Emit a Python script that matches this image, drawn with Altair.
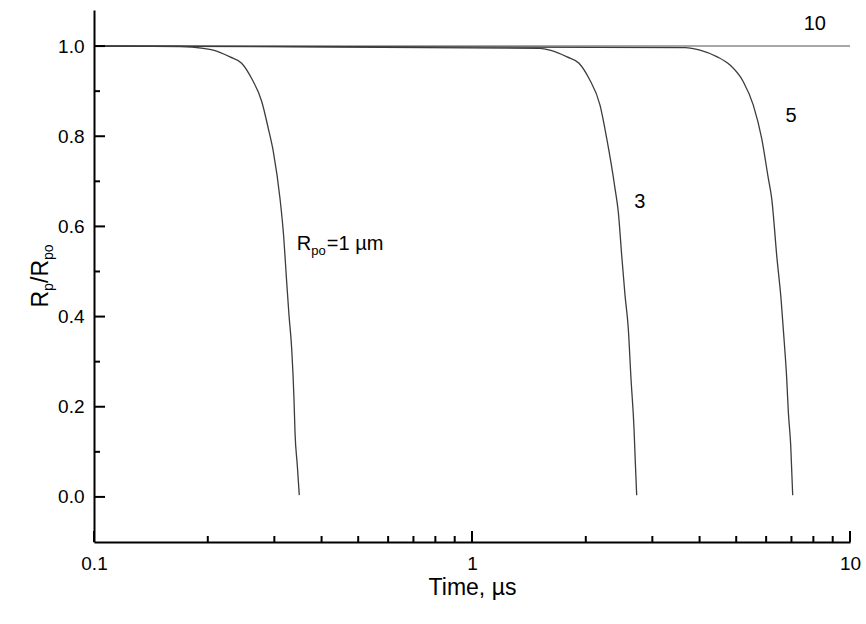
import altair as alt
import pandas as pd

# ---- data ----
t_1um = [0.1, 0.169, 0.1946, 0.2068, 0.2289, 0.2458, 0.2613, 0.2778, 0.2892, 0.2981,
         0.3105, 0.3168, 0.3234, 0.3280, 0.3334, 0.3381, 0.3402, 0.3450, 0.3492]
r_1um = [1.0, 0.999, 0.995, 0.991, 0.976, 0.962, 0.928, 0.877, 0.817, 0.766,
         0.662, 0.588, 0.477, 0.403, 0.329, 0.218, 0.144, 0.070, 0.004]

t_3um = [0.1, 1.513, 1.608, 1.784, 1.919, 2.040, 2.181, 2.272, 2.390, 2.438,
         2.489, 2.540, 2.591, 2.634, 2.683, 2.704, 2.727]
r_3um = [1.0, 0.995, 0.991, 0.976, 0.962, 0.928, 0.869, 0.795, 0.684, 0.632,
         0.536, 0.447, 0.3735, 0.2625, 0.1515, 0.0777, 0.0036]

t_5um = [0.1, 3.661, 4.011, 4.441, 4.814, 5.221, 5.548, 5.839, 6.079, 6.206,
         6.410, 6.569, 6.690, 6.800, 6.868, 6.968, 7.054]
r_5um = [1.0, 0.9965, 0.991, 0.9765, 0.958, 0.921, 0.869, 0.795, 0.707, 0.662,
         0.529, 0.440, 0.351, 0.263, 0.189, 0.115, 0.0036]

t_10um = [0.1, 10.0]
r_10um = [1.0, 1.0]

label_text = ["10", "5", "3"]
label_t = [8.07, 6.98, 2.78]
label_r = [1.05, 0.844, 0.655]

rpo_label_t = [0.344]
rpo_label_r = [0.562]

x_major = [0.1, 1, 10]
x_minor = [0.2, 0.3, 0.4, 0.5, 0.6, 0.7, 0.8, 0.9, 2, 3, 4, 5, 6, 7, 8, 9]
y_major = [0.0, 0.2, 0.4, 0.6, 0.8, 1.0]
y_minor = [0.1, 0.3, 0.5, 0.7, 0.9]

# ---- tables ----
curves = pd.concat([
    pd.DataFrame({"t": t_1um, "r": r_1um, "s": "1"}),
    pd.DataFrame({"t": t_3um, "r": r_3um, "s": "3"}),
    pd.DataFrame({"t": t_5um, "r": r_5um, "s": "5"}),
])
flat = pd.DataFrame({"t": t_10um, "r": r_10um})
labels = pd.DataFrame({"t": label_t, "r": label_r, "txt": label_text})
rpo = pd.DataFrame({"t": rpo_label_t, "r": rpo_label_r})

FONT = "Liberation Sans"
W, H = 756, 532

xscale = alt.Scale(type="log", domain=[0.1, 10], nice=False)
yscale = alt.Scale(domain=[-0.1, 1.08], nice=False, zero=False)

xaxis = alt.Axis(values=x_major, format="~g", ticks=False, grid=False,
                 title="Time, µs", labelPadding=12, titlePadding=3,
                 labelFontSize=19, titleFontSize=23, labelFont=FONT, titleFont=FONT,
                 titleFontWeight="normal", domainColor="black", domainWidth=2,
                 labelColor="black", titleColor="black", labelFlush=False)
yaxis = alt.Axis(values=y_major, format=".1f", ticks=False, grid=False,
                 title=None, labelPadding=10,
                 labelFontSize=19, labelFont=FONT,
                 domainColor="black", domainWidth=2, labelColor="black")

flat_line = alt.Chart(flat).mark_line(color="#8a8a8a", strokeWidth=1.6).encode(
    x=alt.X("t:Q", scale=xscale, axis=xaxis),
    y=alt.Y("r:Q", scale=yscale, axis=yaxis),
)

curve_lines = alt.Chart(curves).mark_line(color="#3c3c3c", strokeWidth=1.3,
                                          interpolate="monotone").encode(
    x=alt.X("t:Q", scale=xscale),
    y=alt.Y("r:Q", scale=yscale),
    detail="s:N",
)

num_labels = alt.Chart(labels).mark_text(font=FONT, fontSize=20, color="black",
                                         align="center", baseline="middle").encode(
    x=alt.X("t:Q", scale=xscale),
    y=alt.Y("r:Q", scale=yscale),
    text="txt:N",
)

rpo_R = alt.Chart(rpo).mark_text(font=FONT, fontSize=20, color="black",
                                 align="left", baseline="middle", text="R").encode(
    x=alt.X("t:Q", scale=xscale), y=alt.Y("r:Q", scale=yscale))
rpo_sub = alt.Chart(rpo).mark_text(font=FONT, fontSize=13, color="black",
                                   align="left", baseline="middle", text="po",
                                   dx=14.5, dy=7).encode(
    x=alt.X("t:Q", scale=xscale), y=alt.Y("r:Q", scale=yscale))
rpo_rest = alt.Chart(rpo).mark_text(font=FONT, fontSize=20, color="black",
                                    align="left", baseline="middle", text="=1 µm",
                                    dx=30).encode(
    x=alt.X("t:Q", scale=xscale), y=alt.Y("r:Q", scale=yscale))

# y-axis title with real subscripts (rotated text pieces)
ytitle_parts = [
    ("R", 23, -46, 297.5),
    ("p", 14, -41, 281.0),
    ("/", 23, -46, 273.0),
    ("R", 23, -46, 266.6),
    ("po", 14, -41, 250.0),
]
ytitle_layers = [
    alt.Chart(pd.DataFrame({"k": [0]})).mark_text(
        font=FONT, fontSize=fs, color="black", angle=270,
        align="left", baseline="alphabetic", text=txt,
    ).encode(x=alt.value(xp), y=alt.value(yp))
    for txt, fs, xp, yp in ytitle_parts
]

# inward ticks
xt_major = alt.Chart(pd.DataFrame({"t": x_major})).mark_rule(color="black", strokeWidth=2).encode(
    x=alt.X("t:Q", scale=xscale), y=alt.value(H), y2=alt.value(H - 11))
xt_minor = alt.Chart(pd.DataFrame({"t": x_minor})).mark_rule(color="black", strokeWidth=2).encode(
    x=alt.X("t:Q", scale=xscale), y=alt.value(H), y2=alt.value(H - 6))
yt_major = alt.Chart(pd.DataFrame({"r": y_major})).mark_rule(color="black", strokeWidth=2).encode(
    y=alt.Y("r:Q", scale=yscale), x=alt.value(0), x2=alt.value(11))
yt_minor = alt.Chart(pd.DataFrame({"r": y_minor})).mark_rule(color="black", strokeWidth=2).encode(
    y=alt.Y("r:Q", scale=yscale), x=alt.value(0), x2=alt.value(6))

chart = alt.layer(
    flat_line, curve_lines, num_labels, rpo_R, rpo_sub, rpo_rest,
    xt_major, xt_minor, yt_major, yt_minor, *ytitle_layers,
).properties(
    width=W, height=H,
    autosize="none",
    padding={"left": 94, "top": 10, "right": 16, "bottom": 82},
    background="white",
).configure_view(stroke=None)

chart.save("out.html", embed_options={"renderer": "svg", "actions": False})
